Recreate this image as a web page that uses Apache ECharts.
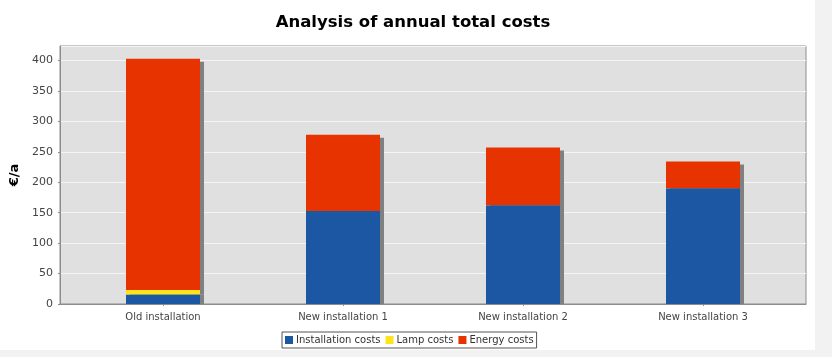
<!DOCTYPE html>
<html>
<head>
<meta charset="utf-8">
<script src="https://cdn.jsdelivr.net/npm/echarts@6/dist/echarts.min.js"></script>
<style>
html,body{margin:0;padding:0;background:#f2f2f2;}
#c{width:832px;height:357px;}
</style>
</head>
<body>
<div id="c"></div>
<script>
const categories = ['Old installation', 'New installation 1', 'New installation 2', 'New installation 3'];
const installationCosts = [15, 153, 162, 190];
const lampCosts = [8, 0, 0, 0];
const energyCosts = [380, 125, 95, 44];
const seriesNames = ['Installation costs', 'Lamp costs', 'Energy costs'];
const yTicks = [0, 50, 100, 150, 200, 250, 300, 350, 400];

const chart = echarts.init(document.getElementById('c'), null, {renderer: 'canvas'});
const font = 'DejaVu Sans';
const shadow = '#808080';
const option = {
  animation: false,
  backgroundColor: '#f2f2f2',
  textStyle: {fontFamily: font},
  graphic: [
    {type: 'rect', z: -10, silent: true, shape: {x: 0, y: 0, width: 815, height: 350}, style: {fill: '#ffffff'}}
  ],
  title: {
    text: 'Analysis of annual total costs',
    left: 408, top: 9, textAlign: 'center',
    textStyle: {fontFamily: font, fontWeight: 'bold', fontSize: 16.5, color: '#000'}
  },
  legend: {
    left: 282, top: 332,
    data: seriesNames,
    icon: 'rect', itemWidth: 8, itemHeight: 8, itemGap: 5,
    borderColor: '#555', borderWidth: 1, padding: [3, 3, 3, 3],
    textStyle: {fontFamily: font, fontSize: 10, color: '#333', padding: [0, 0, 0, -2]}
  },
  grid: [
    {left: 60, right: 26, top: 46, bottom: 53, show: true, backgroundColor: '#e0e0e0', borderColor: '#8c8c8c', borderWidth: 1, containLabel: false},
    {left: 73, right: 39, top: 46, bottom: 53, show: false, containLabel: false}
  ],
  xAxis: [
    {type: 'value', gridIndex: 0, min: 0, max: 1, offset: 3,
      axisLine: {show: true, lineStyle: {color: '#8c8c8c'}}, axisTick: {show: false}, axisLabel: {show: false}, splitLine: {show: false}},
    {type: 'category', gridIndex: 1, data: categories, offset: 3,
      axisLine: {show: false}, axisTick: {show: true, alignWithLabel: true, length: 2, lineStyle: {color: '#8c8c8c'}},
      axisLabel: {margin: 5, fontFamily: font, fontSize: 10, color: '#444'}}
  ],
  yAxis: [
    {type: 'value', gridIndex: 0, min: 0, max: 424, interval: 50, offset: 3,
      name: '€/a', nameLocation: 'middle', nameRotate: 90, nameGap: 33,
      nameTextStyle: {fontFamily: font, fontWeight: 'bold', fontSize: 13, color: '#000'},
      axisLine: {show: true, lineStyle: {color: '#8c8c8c'}},
      axisTick: {show: true, length: 2, lineStyle: {color: '#8c8c8c'}},
      axisLabel: {margin: 4, fontFamily: font, fontSize: 11, color: '#444', showMaxLabel: false,
        formatter: v => yTicks.includes(v) ? String(v) : ''},
      splitLine: {show: true, lineStyle: {color: '#f4f4f4', width: 1}}},
    {type: 'value', gridIndex: 1, min: 0, max: 424, show: false, splitLine: {show: false}}
  ],
  series: [
    {name: seriesNames[0], type: 'bar', stack: 'total', xAxisIndex: 1, yAxisIndex: 1, barWidth: 74, z: 5,
      data: installationCosts,
      itemStyle: {color: '#1b57a3', shadowColor: shadow, shadowBlur: 0, shadowOffsetX: 4, shadowOffsetY: 0}},
    {name: seriesNames[1], type: 'bar', stack: 'total', xAxisIndex: 1, yAxisIndex: 1, barWidth: 74, z: 4,
      data: lampCosts,
      itemStyle: {color: '#ffe31c', shadowColor: shadow, shadowBlur: 0, shadowOffsetX: 4, shadowOffsetY: 0}},
    {name: seriesNames[2], type: 'bar', stack: 'total', xAxisIndex: 1, yAxisIndex: 1, barWidth: 74, z: 3,
      data: energyCosts,
      itemStyle: {color: '#e63300', shadowColor: shadow, shadowBlur: 0, shadowOffsetX: 4, shadowOffsetY: 3}}
  ]
};
chart.setOption(option);
</script>
</body>
</html>
